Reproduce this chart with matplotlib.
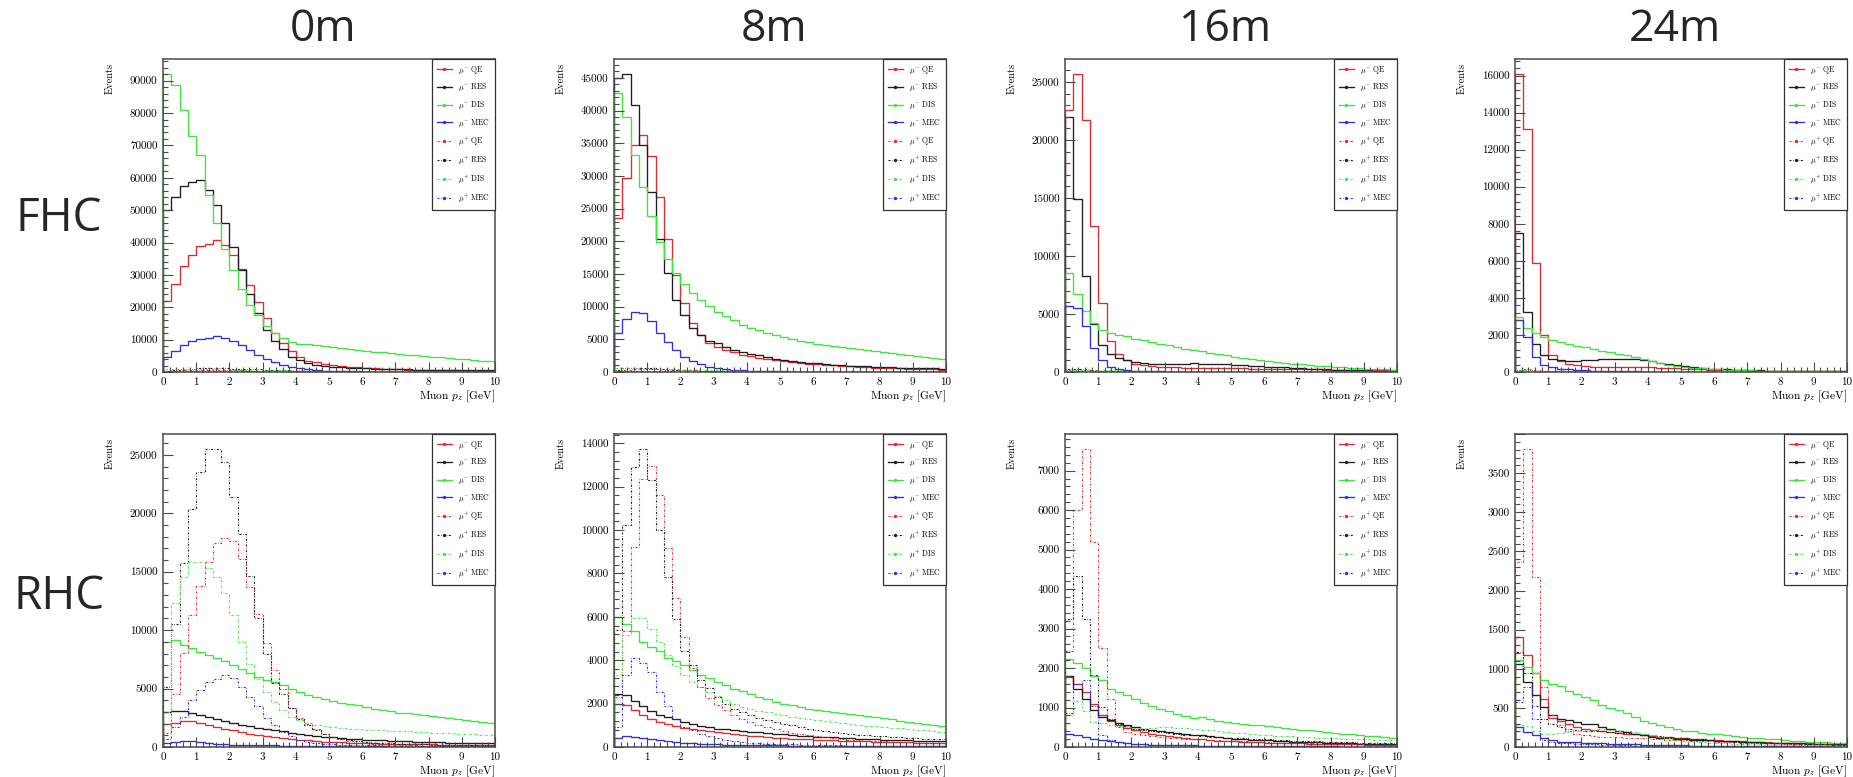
import numpy as np
import matplotlib
matplotlib.use("Agg")
import matplotlib.pyplot as plt
from matplotlib.lines import Line2D
from matplotlib.ticker import MultipleLocator, FuncFormatter

plt.rcParams['font.family'] = 'serif'
plt.rcParams['font.serif'] = ['cmr10']
plt.rcParams['mathtext.fontset'] = 'cm'
plt.rcParams['axes.formatter.use_mathtext'] = True

# ---------------- binning ----------------
bin_width = 0.25
n_bins = 40

# ---------------- FHC 0m ----------------
fhc0_mum_qe = [21800, 27100, 32600, 36300, 38800, 39600, 40800, 39100, 36300, 31900, 27000, 21600, 16700, 12100, 9000, 6400,
               4600, 3400, 3100, 2600, 2300, 1900, 1600, 1400, 1250, 1100, 1000, 900, 820, 750, 690, 640, 590, 550, 510, 480, 450, 420, 400, 380]
fhc0_mum_res = [49900, 54000, 57400, 58800, 59200, 56300, 51700, 46000, 38600, 31400, 24200, 18200, 13100, 9500, 7000, 4600,
                3600, 2700, 2200, 1900, 1650, 1450, 1300, 1200, 1100, 1000, 950, 900, 850, 800, 760, 720, 690, 660, 630, 600, 570, 540, 510, 490]
fhc0_mum_dis = [92100, 88700, 80800, 73000, 66900, 54700, 46000, 38100, 31600, 25700, 20800, 17500, 14100, 12100, 10600, 9300,
                8800, 8500, 8200, 7900, 7600, 7300, 7050, 6800, 6550, 6300, 6050, 5800, 5550, 5350, 5150, 4950, 4750, 4550, 4350, 4150, 3950, 3750, 3550, 3350]
fhc0_mum_mec = [4600, 6400, 8200, 9500, 10300, 10600, 11000, 10500, 9500, 8200, 6900, 5300, 4100, 3100, 2300, 1500,
                1100, 800, 600, 450, 350, 280, 220, 180, 150, 125, 105, 90, 78, 68, 60, 52, 46, 40, 35, 31, 27, 24, 21, 18]
fhc0_mup_qe = [300, 450, 550, 620, 650, 650, 630, 600, 560, 510, 460, 410, 360, 310, 270, 230,
               200, 175, 155, 140, 125, 115, 105, 95, 88, 80, 74, 68, 63, 58, 54, 50, 46, 43, 40, 37, 35, 32, 30, 28]
fhc0_mup_res = [400, 700, 900, 1050, 1150, 1200, 1200, 1150, 1080, 1000, 900, 800, 700, 600, 500, 420,
                360, 310, 270, 240, 215, 195, 180, 165, 150, 140, 130, 120, 112, 105, 98, 92, 86, 80, 75, 70, 66, 62, 58, 55]
fhc0_mup_dis = [900, 950, 950, 930, 900, 870, 840, 800, 760, 720, 680, 640, 600, 570, 540, 510,
                480, 455, 430, 410, 390, 370, 350, 335, 320, 305, 290, 275, 262, 250, 238, 226, 215, 205, 195, 185, 176, 168, 160, 152]
fhc0_mup_mec = [100, 150, 190, 220, 240, 250, 250, 240, 220, 200, 175, 150, 125, 100, 80, 62,
                48, 38, 30, 24, 20, 17, 15, 13, 11, 10, 9, 8, 7, 6, 6, 5, 5, 4, 4, 4, 3, 3, 3, 3]

# ---------------- FHC 8m ----------------
fhc8_mum_qe = [23600, 29700, 34800, 36300, 33000, 26800, 20300, 14800, 10500, 7500, 5700, 4400, 3800, 3300, 3000, 2650,
               2400, 2200, 2050, 1850, 1700, 1550, 1420, 1300, 1200, 1100, 1020, 940, 870, 800, 740, 680, 630, 580, 540, 500, 460, 420, 390, 360]
fhc8_mum_res = [45000, 45600, 40800, 34700, 27600, 20300, 15100, 11000, 8700, 6700, 5700, 4800, 4400, 3800, 3400, 3100,
                2800, 2550, 2300, 2050, 1850, 1700, 1560, 1440, 1330, 1230, 1140, 1060, 990, 930, 870, 820, 770, 720, 680, 640, 600, 570, 540, 510]
fhc8_mum_dis = [42700, 39000, 33200, 28300, 23900, 19900, 17300, 15200, 13500, 12100, 11000, 10100, 9200, 8500, 7900, 7200,
                6700, 6400, 6000, 5600, 5400, 5100, 4800, 4600, 4300, 4200, 4000, 3800, 3600, 3450, 3300, 3150, 3000, 2850, 2700, 2550, 2400, 2250, 2100, 1950]
fhc8_mum_mec = [6000, 8100, 9200, 9000, 7800, 6000, 4600, 3300, 2300, 1700, 1200, 800, 560, 400, 300, 230,
                180, 145, 120, 100, 85, 72, 62, 54, 47, 41, 36, 32, 28, 25, 22, 20, 18, 16, 14, 13, 12, 11, 10, 9]
fhc8_mup_qe = [200, 350, 450, 480, 470, 430, 380, 330, 280, 235, 195, 160, 130, 110, 95, 82,
               72, 64, 57, 51, 46, 42, 38, 35, 32, 29, 27, 25, 23, 21, 20, 18, 17, 16, 15, 14, 13, 12, 11, 10]
fhc8_mup_res = [350, 550, 620, 600, 540, 470, 400, 340, 290, 250, 215, 185, 160, 140, 125, 112,
                100, 90, 82, 75, 69, 64, 59, 55, 51, 48, 45, 42, 39, 37, 35, 33, 31, 29, 27, 26, 24, 23, 22, 21]
fhc8_mup_dis = [550, 560, 540, 510, 480, 450, 420, 390, 365, 340, 318, 297, 278, 260, 244, 229,
                215, 202, 190, 179, 169, 160, 151, 143, 136, 129, 122, 116, 110, 105, 100, 95, 90, 86, 82, 78, 74, 71, 68, 65]
fhc8_mup_mec = [80, 120, 140, 135, 120, 100, 80, 62, 48, 37, 29, 23, 18, 15, 12, 10,
                8, 7, 6, 5, 4, 4, 3, 3, 3, 2, 2, 2, 2, 2, 1, 1, 1, 1, 1, 1, 1, 1, 1, 1]

# ---------------- FHC 16m ----------------
fhc16_mum_qe = [22600, 25700, 21700, 12600, 5950, 2670, 1520, 1000, 720, 570, 490, 430, 400, 390, 380, 370,
                360, 350, 340, 330, 320, 310, 300, 290, 280, 270, 260, 250, 240, 230, 220, 210, 200, 190, 180, 170, 160, 150, 140, 130]
fhc16_mum_res = [22000, 14900, 8300, 4100, 2300, 1580, 1200, 1000, 860, 780, 720, 680, 680, 700, 720, 740,
                 730, 710, 690, 660, 630, 590, 550, 510, 470, 430, 390, 350, 320, 290, 260, 235, 210, 190, 170, 150, 135, 120, 105, 95]
fhc16_mum_dis = [8500, 6750, 5260, 4220, 3650, 3390, 3220, 3080, 2870, 2730, 2590, 2440, 2300, 2160, 2010, 1870,
                 1780, 1670, 1550, 1440, 1330, 1230, 1130, 1040, 950, 870, 790, 720, 650, 590, 530, 480, 430, 390, 350, 310, 280, 250, 220, 200]
fhc16_mum_mec = [5660, 5550, 3940, 2070, 1000, 430, 230, 140, 95, 70, 55, 45, 38, 33, 29, 26,
                 23, 21, 19, 17, 15, 14, 13, 12, 11, 10, 9, 8, 8, 7, 7, 6, 6, 5, 5, 5, 4, 4, 4, 4]
fhc16_mup_qe = [150, 250, 220, 160, 110, 80, 60, 48, 40, 34, 30, 27, 24, 22, 20, 18,
                17, 16, 15, 14, 13, 12, 11, 10, 10, 9, 9, 8, 8, 7, 7, 6, 6, 6, 5, 5, 5, 4, 4, 4]
fhc16_mup_res = [250, 220, 160, 120, 95, 80, 70, 62, 56, 52, 48, 45, 43, 41, 39, 37,
                 35, 33, 31, 29, 27, 25, 23, 21, 19, 17, 16, 15, 14, 13, 12, 11, 10, 9, 8, 8, 7, 7, 6, 6]
fhc16_mup_dis = [200, 190, 175, 160, 150, 140, 132, 125, 118, 112, 106, 100, 95, 90, 85, 80,
                 76, 72, 68, 64, 60, 56, 52, 48, 45, 42, 39, 36, 33, 30, 28, 26, 24, 22, 20, 18, 17, 16, 15, 14]
fhc16_mup_mec = [60, 55, 40, 22, 12, 6, 4, 3, 2, 2, 1, 1, 1, 1, 1, 1,
                 1, 1, 1, 1, 1, 1, 1, 1, 1, 1, 1, 1, 1, 1, 1, 1, 1, 1, 1, 1, 1, 1, 1, 1]

# ---------------- FHC 24m ----------------
fhc24_mum_qe = [16090, 13120, 5860, 1980, 900, 600, 450, 360, 310, 280, 270, 270, 280, 290, 290, 280,
                260, 240, 220, 200, 180, 160, 145, 130, 118, 107, 97, 88, 80, 73, 66, 60, 55, 50, 45, 41, 37, 34, 31, 28]
fhc24_mum_res = [7480, 3240, 1500, 900, 720, 630, 580, 600, 630, 660, 680, 700, 720, 700, 680, 630,
                 570, 500, 430, 360, 300, 250, 210, 180, 155, 135, 118, 104, 92, 82, 73, 65, 58, 52, 47, 42, 38, 34, 31, 28]
fhc24_mum_dis = [2970, 2380, 2130, 1890, 1750, 1620, 1520, 1420, 1330, 1240, 1150, 1080, 990, 900, 800, 700,
                 600, 500, 400, 320, 260, 220, 190, 165, 145, 128, 113, 100, 89, 79, 70, 62, 55, 49, 44, 39, 35, 31, 28, 25]
fhc24_mum_mec = [2830, 1890, 810, 400, 270, 180, 140, 110, 90, 75, 62, 52, 44, 37, 31, 26,
                 22, 19, 16, 14, 12, 10, 9, 8, 7, 6, 5, 5, 4, 4, 3, 3, 3, 2, 2, 2, 2, 2, 1, 1]
fhc24_mup_qe = [120, 150, 100, 60, 40, 30, 25, 22, 20, 18, 16, 15, 14, 13, 12, 11,
                10, 9, 8, 7, 7, 6, 6, 5, 5, 4, 4, 4, 3, 3, 3, 3, 2, 2, 2, 2, 2, 2, 1, 1]
fhc24_mup_res = [130, 90, 60, 45, 38, 34, 32, 31, 30, 30, 29, 28, 27, 26, 24, 22,
                 20, 18, 16, 14, 12, 10, 9, 8, 7, 6, 5, 5, 4, 4, 3, 3, 3, 2, 2, 2, 2, 2, 1, 1]
fhc24_mup_dis = [90, 85, 78, 72, 67, 62, 58, 54, 50, 47, 44, 41, 38, 35, 32, 29,
                 26, 23, 20, 17, 15, 13, 11, 10, 9, 8, 7, 6, 6, 5, 5, 4, 4, 4, 3, 3, 3, 3, 2, 2]
fhc24_mup_mec = [30, 22, 12, 6, 3, 2, 1, 1, 1, 1, 1, 1, 1, 1, 1, 1,
                 1, 1, 1, 1, 1, 1, 1, 1, 1, 1, 1, 1, 1, 1, 1, 1, 1, 1, 1, 1, 1, 1, 1, 1]

# ---------------- RHC 0m ----------------
rhc0_mum_qe = [1940, 2090, 2200, 2200, 2090, 1910, 1710, 1570, 1430, 1290, 1140, 1000, 910, 830, 740, 690,
               630, 570, 510, 460, 430, 400, 375, 350, 330, 310, 295, 280, 265, 250, 240, 230, 220, 210, 200, 192, 184, 176, 168, 160]
rhc0_mum_res = [3000, 3060, 3090, 2940, 2770, 2570, 2430, 2230, 2060, 1910, 1770, 1630, 1510, 1430, 1340, 1230,
                1140, 1060, 970, 890, 830, 770, 710, 660, 620, 590, 560, 530, 500, 480, 460, 440, 420, 400, 385, 370, 355, 340, 325, 310]
rhc0_mum_dis = [9000, 9140, 8710, 8430, 8140, 7860, 7630, 7340, 7060, 6710, 6290, 6000, 5770, 5570, 5340, 4940,
                4710, 4490, 4290, 4090, 3910, 3800, 3710, 3570, 3430, 3290, 3200, 3060, 2940, 2870, 2790, 2710, 2630, 2550, 2470, 2390, 2310, 2230, 2150, 2070]
rhc0_mum_mec = [340, 430, 490, 490, 430, 370, 290, 230, 200, 180, 165, 150, 140, 130, 120, 110,
                100, 92, 85, 78, 72, 66, 61, 56, 52, 48, 44, 41, 38, 35, 32, 30, 28, 26, 24, 22, 20, 19, 18, 17]
rhc0_mup_qe = [1200, 4570, 8060, 11290, 13770, 15860, 17430, 17860, 17630, 16060, 13710, 11370, 8910, 6570, 5000, 3370,
               2510, 2000, 1570, 1140, 860, 660, 490, 370, 300, 250, 215, 190, 170, 155, 140, 128, 117, 107, 98, 90, 83, 76, 70, 64]
rhc0_mup_res = [5140, 10490, 15770, 20340, 23570, 25510, 25510, 24430, 21430, 18200, 14630, 11000, 8000, 5500, 4500, 3300,
                2400, 1900, 1450, 1100, 850, 700, 580, 490, 420, 370, 330, 300, 275, 255, 240, 225, 212, 200, 190, 180, 170, 162, 154, 146]
rhc0_mup_dis = [3000, 12290, 14570, 15860, 15860, 15340, 14570, 13140, 11290, 9000, 7140, 5860, 4710, 3860, 3140, 2570,
                2290, 2060, 1910, 1770, 1690, 1630, 1570, 1510, 1490, 1450, 1420, 1390, 1360, 1330, 1300, 1270, 1240, 1210, 1180, 1150, 1120, 1090, 1060, 1030]
rhc0_mup_mec = [710, 1710, 2570, 4000, 4860, 5570, 5860, 6140, 5910, 5140, 4290, 3490, 2510, 1860, 1290, 910,
                570, 430, 340, 280, 240, 210, 185, 165, 150, 138, 127, 117, 108, 100, 93, 87, 81, 76, 71, 67, 63, 59, 56, 53]

# ---------------- RHC 8m ----------------
rhc8_mum_qe = [2000, 1920, 1690, 1460, 1310, 1150, 1050, 950, 880, 820, 770, 720, 670, 630, 590, 550,
               520, 490, 460, 435, 410, 390, 370, 350, 332, 316, 300, 288, 276, 265, 255, 245, 236, 227, 218, 210, 202, 195, 188, 181]
rhc8_mum_res = [2460, 2380, 2110, 1880, 1650, 1490, 1380, 1280, 1150, 1050, 950, 900, 850, 810, 770, 740,
                700, 670, 640, 610, 580, 555, 530, 505, 480, 460, 440, 420, 400, 385, 370, 355, 340, 325, 312, 300, 288, 276, 265, 255]
rhc8_mum_dis = [6000, 5650, 5340, 4850, 4620, 4430, 4080, 3950, 3770, 3540, 3340, 3180, 3000, 2850, 2690, 2570,
                2420, 2310, 2200, 2080, 2000, 1920, 1850, 1750, 1700, 1650, 1600, 1560, 1520, 1470, 1420, 1370, 1320, 1270, 1220, 1170, 1120, 1070, 1030, 990]
rhc8_mum_mec = [420, 490, 460, 420, 380, 340, 290, 250, 200, 170, 150, 135, 125, 115, 107, 100,
                94, 88, 83, 78, 73, 69, 65, 61, 58, 55, 52, 49, 46, 44, 42, 40, 38, 36, 34, 32, 30, 29, 28, 27]
rhc8_mup_qe = [2310, 5340, 9230, 12340, 12950, 11620, 9180, 6880, 5080, 3620, 2770, 2260, 1920, 1690, 1490, 1310,
               1150, 1030, 920, 820, 720, 660, 600, 540, 490, 450, 410, 375, 345, 320, 297, 276, 257, 240, 224, 210, 197, 185, 174, 164]
rhc8_mup_res = [5380, 10230, 12920, 13740, 12310, 10000, 7850, 5920, 4420, 3770, 3110, 2720, 2310, 2000, 1770, 1620,
                1460, 1340, 1230, 1150, 1080, 1000, 920, 850, 790, 740, 690, 650, 610, 575, 545, 515, 490, 465, 445, 425, 405, 390, 375, 360]
rhc8_mup_dis = [3310, 5150, 5950, 5950, 5460, 4850, 4230, 3720, 3340, 3000, 2770, 2540, 2340, 2150, 2000, 1850,
                1760, 1680, 1600, 1530, 1460, 1400, 1340, 1280, 1230, 1180, 1130, 1090, 1050, 1010, 980, 950, 920, 890, 860, 830, 800, 770, 740, 710]
rhc8_mup_mec = [920, 3310, 4080, 3890, 3460, 2540, 1880, 1310, 920, 770, 620, 490, 420, 340, 260, 230,
                200, 180, 160, 145, 130, 118, 107, 98, 90, 83, 77, 71, 66, 61, 57, 53, 49, 46, 43, 40, 37, 35, 33, 31]

# ---------------- RHC 16m ----------------
rhc16_mum_qe = [1770, 1600, 1390, 1100, 800, 650, 560, 480, 420, 380, 340, 310, 280, 250, 230, 210,
                190, 175, 160, 150, 140, 132, 125, 118, 112, 106, 100, 95, 90, 86, 82, 78, 74, 71, 68, 65, 62, 59, 56, 54]
rhc16_mum_res = [1800, 1460, 1210, 930, 760, 690, 610, 550, 510, 460, 420, 400, 380, 360, 340, 310,
                 300, 270, 250, 230, 215, 200, 188, 176, 165, 155, 146, 138, 130, 123, 116, 110, 104, 98, 93, 88, 84, 80, 76, 72]
rhc16_mum_dis = [2230, 2130, 2000, 1810, 1690, 1480, 1390, 1310, 1210, 1120, 1050, 970, 900, 840, 780, 730,
                 760, 700, 650, 630, 620, 590, 560, 550, 530, 510, 480, 460, 440, 420, 400, 380, 360, 340, 320, 300, 285, 270, 255, 240]
rhc16_mum_mec = [340, 310, 250, 190, 170, 140, 130, 100, 80, 70, 62, 56, 51, 47, 43, 40,
                 37, 34, 32, 30, 28, 26, 24, 22, 21, 20, 19, 18, 17, 16, 15, 14, 13, 12, 12, 11, 11, 10, 10, 9]
rhc16_mup_qe = [2420, 6000, 7550, 5200, 2500, 1210, 510, 380, 340, 300, 280, 260, 240, 225, 210, 200,
                190, 180, 170, 160, 150, 142, 134, 126, 119, 112, 106, 100, 95, 90, 85, 80, 76, 72, 68, 64, 61, 58, 55, 52]
rhc16_mup_res = [3250, 4340, 3230, 1830, 1010, 720, 590, 520, 460, 420, 400, 380, 350, 340, 310, 300,
                 280, 265, 250, 240, 230, 220, 210, 200, 190, 181, 172, 164, 156, 148, 141, 134, 128, 122, 116, 110, 105, 100, 95, 90]
rhc16_mup_dis = [820, 1160, 910, 630, 610, 550, 520, 510, 480, 460, 480, 510, 500, 490, 480, 460,
                 440, 420, 400, 380, 360, 345, 330, 315, 300, 290, 280, 270, 260, 250, 240, 230, 222, 214, 206, 198, 190, 183, 176, 170]
rhc16_mup_mec = [870, 1600, 1690, 1050, 300, 170, 130, 100, 85, 72, 62, 54, 48, 43, 39, 35,
                 32, 29, 27, 25, 23, 21, 19, 18, 17, 16, 15, 14, 13, 12, 11, 10, 10, 9, 9, 8, 8, 7, 7, 7]

# ---------------- RHC 24m ----------------
rhc24_mum_qe = [1410, 1170, 940, 610, 370, 330, 290, 260, 230, 220, 200, 190, 180, 170, 160, 150,
                140, 132, 124, 116, 109, 102, 96, 90, 85, 80, 75, 71, 67, 63, 59, 56, 53, 50, 47, 45, 42, 40, 38, 36]
rhc24_mum_res = [1060, 830, 670, 510, 410, 360, 350, 320, 300, 290, 260, 230, 210, 190, 170, 150,
                 130, 120, 110, 105, 100, 95, 90, 85, 80, 76, 72, 68, 64, 60, 57, 54, 51, 48, 45, 43, 41, 39, 37, 35]
rhc24_mum_dis = [1110, 1020, 950, 850, 810, 780, 720, 680, 640, 600, 540, 500, 470, 440, 380, 330,
                 310, 280, 260, 230, 210, 200, 180, 170, 160, 150, 140, 130, 120, 112, 104, 96, 89, 82, 76, 70, 65, 60, 56, 52]
rhc24_mum_mec = [260, 190, 150, 110, 85, 70, 65, 60, 55, 50, 46, 42, 39, 36, 33, 30,
                 28, 26, 24, 22, 20, 19, 18, 17, 16, 15, 14, 13, 12, 11, 10, 10, 9, 9, 8, 8, 7, 7, 6, 6]
rhc24_mup_qe = [2360, 3810, 2170, 770, 410, 280, 210, 170, 150, 140, 130, 130, 125, 120, 115, 110,
                105, 100, 95, 90, 85, 80, 76, 72, 68, 64, 60, 57, 54, 51, 48, 45, 43, 41, 39, 37, 35, 33, 31, 30]
rhc24_mup_res = [1210, 940, 530, 360, 290, 260, 230, 220, 210, 200, 200, 190, 185, 180, 170, 160,
                 150, 140, 130, 120, 112, 104, 96, 89, 82, 76, 70, 65, 60, 56, 52, 48, 45, 42, 39, 36, 34, 32, 30, 28]
rhc24_mup_dis = [280, 270, 200, 170, 170, 180, 190, 200, 210, 220, 225, 220, 210, 200, 190, 170,
                 150, 130, 110, 85, 75, 68, 62, 57, 52, 48, 44, 40, 37, 34, 31, 28, 26, 24, 22, 20, 18, 17, 16, 15]
rhc24_mup_mec = [570, 770, 360, 90, 60, 50, 45, 40, 36, 32, 29, 26, 23, 21, 19, 17,
                 15, 14, 13, 12, 11, 10, 9, 8, 7, 7, 6, 6, 5, 5, 4, 4, 4, 3, 3, 3, 3, 2, 2, 2]

# ---------------- labels ----------------
column_titles = ['0m', '8m', '16m', '24m']
row_titles = ['FHC', 'RHC']
series_labels = [r'$\mu^{-}$ QE', r'$\mu^{-}$ RES', r'$\mu^{-}$ DIS', r'$\mu^{-}$ MEC',
                 r'$\mu^{+}$ QE', r'$\mu^{+}$ RES', r'$\mu^{+}$ DIS', r'$\mu^{+}$ MEC']
y_major_steps = [[10000, 5000, 5000, 2000], [5000, 2000, 1000, 500]]

panels = [
    [[fhc0_mum_qe, fhc0_mum_res, fhc0_mum_dis, fhc0_mum_mec, fhc0_mup_qe, fhc0_mup_res, fhc0_mup_dis, fhc0_mup_mec],
     [fhc8_mum_qe, fhc8_mum_res, fhc8_mum_dis, fhc8_mum_mec, fhc8_mup_qe, fhc8_mup_res, fhc8_mup_dis, fhc8_mup_mec],
     [fhc16_mum_qe, fhc16_mum_res, fhc16_mum_dis, fhc16_mum_mec, fhc16_mup_qe, fhc16_mup_res, fhc16_mup_dis, fhc16_mup_mec],
     [fhc24_mum_qe, fhc24_mum_res, fhc24_mum_dis, fhc24_mum_mec, fhc24_mup_qe, fhc24_mup_res, fhc24_mup_dis, fhc24_mup_mec]],
    [[rhc0_mum_qe, rhc0_mum_res, rhc0_mum_dis, rhc0_mum_mec, rhc0_mup_qe, rhc0_mup_res, rhc0_mup_dis, rhc0_mup_mec],
     [rhc8_mum_qe, rhc8_mum_res, rhc8_mum_dis, rhc8_mum_mec, rhc8_mup_qe, rhc8_mup_res, rhc8_mup_dis, rhc8_mup_mec],
     [rhc16_mum_qe, rhc16_mum_res, rhc16_mum_dis, rhc16_mum_mec, rhc16_mup_qe, rhc16_mup_res, rhc16_mup_dis, rhc16_mup_mec],
     [rhc24_mum_qe, rhc24_mum_res, rhc24_mum_dis, rhc24_mum_mec, rhc24_mup_qe, rhc24_mup_res, rhc24_mup_dis, rhc24_mup_mec]],
]

# ---------------- style ----------------
colors = ['#e8262b', '#1e1e1e', '#3ce63c', '#2f2fe0'] * 2
dashdot = (0, (1.8, 1.4, 0.5, 1.4))
styles = ['-'] * 4 + [dashdot] * 4
widths = [0.95] * 4 + [0.8] * 4
axis_col = '#4a4a4a'

W, H = 1853, 777
fig = plt.figure(figsize=(W / 100, H / 100), dpi=100)
fig.patch.set_facecolor('white')

col_left_px = [163, 614, 1065, 1515]
row_top_px = [59, 434]
ax_w_px, ax_h_px = 332, 313

edges = np.arange(n_bins + 1) * bin_width


def make_formatter(top):
    def fmt(v, pos):
        if v > 0.99 * top:
            return ''
        return '%d' % round(v)
    return FuncFormatter(fmt)


for r in range(2):
    for c in range(4):
        left = col_left_px[c] / W
        bottom = 1 - (row_top_px[r] + ax_h_px) / H
        ax = fig.add_axes([left, bottom, ax_w_px / W, ax_h_px / H])
        series = panels[r][c]
        ymax = 1.05 * max(max(s) for s in series)
        for vals, col, ls, lw in zip(series, colors, styles, widths):
            ax.stairs(vals, edges, baseline=0, color=col, linestyle=ls, linewidth=lw)
        ax.set_xlim(edges[0], edges[-1])
        ax.set_ylim(0, ymax)
        ax.xaxis.set_major_locator(MultipleLocator(1))
        ax.xaxis.set_minor_locator(MultipleLocator(0.2))
        step = y_major_steps[r][c]
        ax.yaxis.set_major_locator(MultipleLocator(step))
        ax.yaxis.set_minor_locator(MultipleLocator(step / 5))
        ax.yaxis.set_major_formatter(make_formatter(ymax))
        ax.xaxis.set_major_formatter(FuncFormatter(lambda v, p: '%d' % round(v)))
        ax.tick_params(which='both', direction='in', top=False, right=False, color=axis_col, width=0.8)
        ax.tick_params(which='major', length=7, labelsize=8, pad=4)
        ax.tick_params(which='minor', length=3.5)
        for sp in ax.spines.values():
            sp.set_color(axis_col)
            sp.set_linewidth(1.1)
        ax.text(-53 / ax_w_px, 1 - 4 / ax_h_px, 'Events', rotation=90, ha='center', va='top',
                transform=ax.transAxes, fontsize=7.5)
        ax.text(1.0, -17 / ax_h_px, r'Muon $p_z$ [GeV]', ha='right', va='top',
                transform=ax.transAxes, fontsize=8.2)
        handles = [Line2D([0], [0], color=col, linestyle=ls, linewidth=lw, marker='o', markersize=1.4)
                   for col, ls, lw in zip(colors, styles, widths)]
        leg = ax.legend(handles, series_labels, loc='upper right', bbox_to_anchor=(1.0, 1.0),
                        borderaxespad=0, fontsize=5.6, frameon=True, fancybox=False, framealpha=1,
                        edgecolor='#333333', handlelength=2.0, handletextpad=0.8, labelspacing=0.75,
                        borderpad=0.6)
        leg.get_frame().set_linewidth(0.9)

title_x_px = [323, 774, 1225, 1675]
for c in range(4):
    fig.text(title_x_px[c] / W, 1 - 30 / H, column_titles[c], ha='center', va='center',
             fontsize=32, family='Open Sans', color='#262626')
row_y_px = [219, 597]
for r in range(2):
    fig.text(59 / W, 1 - row_y_px[r] / H, row_titles[r], ha='center', va='center',
             fontsize=33, family='Open Sans', color='#262626')

fig.savefig('out.png', dpi=100)
